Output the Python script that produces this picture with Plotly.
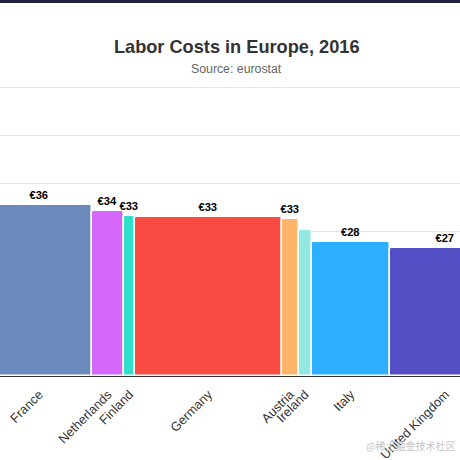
import plotly.graph_objects as go

# Labor cost per hour (EUR) and employment weight, visible part of the chart
countries = ["France", "Netherlands", "Finland", "Germany", "Austria",
             "Ireland", "Italy", "United Kingdom"]
labor_cost = [35.6, 34.3, 33.2, 33.0, 32.7, 30.4, 27.8, 26.7]
employment = [2228857, 702641, 215615, 3144050, 349344, 275567, 1672438, 2366911]
colors = ["#6b8abc", "#d568fb", "#2ee0ca", "#fa4b42", "#feb56a",
          "#91e8e1", "#2caffe", "#544fc5"]
# Ireland's label is hidden in the original (overlap)
show_label = [True, True, True, True, True, False, True, True]

# cumulative positions for the variwide layout
starts = []
acc = 0
for w in employment:
    starts.append(acc)
    acc += w
centers = [s + w / 2 for s, w in zip(starts, employment)]
labels = [f"€{round(v)}" if ok else "" for v, ok in zip(labor_cost, show_label)]

font = "Helvetica, Arial, Liberation Sans, sans-serif"
top, bottom = 86, 84
plot_h = 460 - top - bottom

fig = go.Figure()
fig.add_trace(go.Bar(
    x=centers,
    y=labor_cost,
    width=employment,
    marker=dict(color=colors, line=dict(color="white", width=1.5), cornerradius=3),
    text=labels,
    textposition="outside",
    constraintext="none",
    cliponaxis=False,
    textfont=dict(family=font, size=11.2, color="#000000", weight="bold"),
    hovertemplate="%{customdata}: €%{y}<extra></extra>",
    customdata=countries,
))

fig.update_layout(
    width=460,
    height=460,
    margin=dict(l=0, r=0, t=top, b=bottom),
    paper_bgcolor="white",
    plot_bgcolor="white",
    showlegend=False,
    font=dict(family=font),
    title=dict(
        text="<b>Labor Costs in Europe, 2016</b>",
        x=0.5146, xanchor="center",
        yref="container", y=1 - 46.7 / 460, yanchor="middle",
        font=dict(size=18.2, color="#333333", family=font),
    ),
    bargap=0,
)

fig.add_annotation(
    text="Source: eurostat", xref="paper", yref="paper",
    x=0.5146, y=1 + (top - 69.3) / plot_h, xanchor="center", yanchor="middle",
    showarrow=False, font=dict(size=12.3, color="#666666", family=font),
)
fig.add_annotation(
    text="@稀土掘金技术社区", xref="paper", yref="paper",
    x=456.5 / 460, y=-(445 - 376) / plot_h, xanchor="right", yanchor="middle",
    showarrow=False, font=dict(size=10, color="#c4c4c4", family="Noto Sans CJK SC"),
)

# dark strip at the very top of the page
fig.add_shape(type="rect", xref="paper", yref="paper",
              x0=0, x1=1, y0=1 + (top - 3) / plot_h, y1=1 + top / plot_h,
              fillcolor="#22203f", line_width=0)

fig.update_xaxes(
    range=[279523, 10079900],
    tickvals=centers,
    ticktext=countries,
    tickangle=-45,
    tickfont=dict(size=12.8, color="#333333", family=font),
    showgrid=False,
    zeroline=False,
    showline=True,
    linecolor="#333333",
    linewidth=1,
    ticks="outside",
    ticklen=5,
    tickcolor="rgba(0,0,0,0)",
    automargin=False,
    fixedrange=True,
)
fig.update_yaxes(
    range=[0, 60.3],
    tickvals=[0, 10, 20, 30, 40, 50, 60],
    showgrid=True,
    gridcolor="#e6e6e6",
    gridwidth=1,
    zeroline=False,
    showticklabels=False,
    fixedrange=True,
)

# drop the default page margin so the figure fills the window
fig.write_html("out.html", config={"displayModeBar": False},
               post_script="document.body.style.margin = '0';")
